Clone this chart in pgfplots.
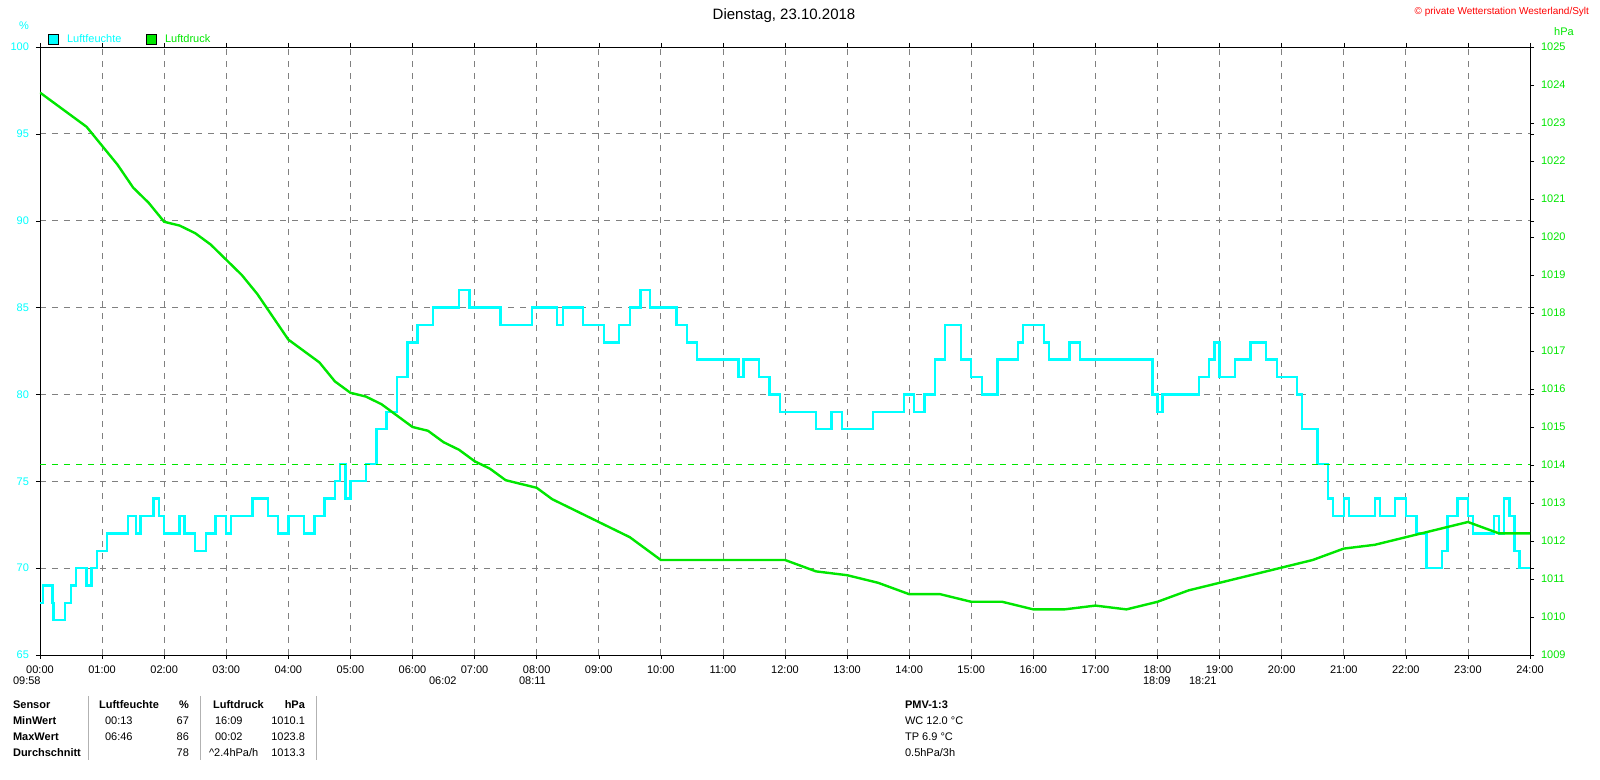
\documentclass[border=0pt]{standalone}
\usepackage{pgfplots}
\pgfplotsset{compat=1.18}
\usepackage{fontspec}
\setmainfont{Liberation Sans}
\definecolor{cy}{RGB}{0,255,255}
\definecolor{gr}{RGB}{0,230,0}
\begin{document}
\begin{tikzpicture}[x=1pt,y=1pt]
\newcommand{\fs}{\fontsize{5.5}{6}\selectfont}
\begin{axis}[scale only axis,width=745pt,height=304pt,
 xmin=0,xmax=24,ymin=65,ymax=100,
 xtick={0,...,24},
 xticklabels={00:00,01:00,02:00,03:00,04:00,05:00,06:00,07:00,08:00,09:00,10:00,11:00,12:00,13:00,14:00,15:00,16:00,17:00,18:00,19:00,20:00,21:00,22:00,23:00,24:00},
 ytick={65,70,...,100},
 grid=major,major grid style={gray,dashed,line width=0.4pt},
 tick style={black},tick align=outside,major tick length=2pt,
 axis line style={black},
 ticklabel style={font=\fs},
 yticklabel style={cy},
 /pgf/number format/assume math mode=true,
 clip=true]
\addplot[const plot,cy,line width=1.2pt] coordinates {
(0,68)(0.05,69)(0.2,68)(0.22,67)(0.4,68)(0.5,69)(0.58,70)(0.75,69)(0.83,70)(0.92,71)(1.08,72)(1.42,73)(1.55,72)(1.62,73)(1.75,73)(1.83,74)(1.92,73)(2.0,72)(2.25,73)(2.33,72)(2.5,71)(2.67,72)(2.83,73)(3.0,72)(3.08,73)(3.42,74)(3.67,73)(3.83,72)(4.0,73)(4.25,72)(4.42,73)(4.58,74)(4.75,75)(4.83,76)(4.92,74)(5.0,75)(5.25,76)(5.42,78)(5.58,79)(5.75,81)(5.92,83)(6.08,84)(6.33,85)(6.75,86)(6.92,85)(7.42,84)(7.92,85)(8.33,84)(8.42,85)(8.75,84)(9.08,83)(9.33,84)(9.5,85)(9.67,86)(9.83,85)(10.25,84)(10.42,83)(10.58,82)(11.25,81)(11.33,82)(11.58,81)(11.75,80)(11.92,79)(12.5,78)(12.75,79)(12.92,78)(13.42,79)(13.92,80)(14.08,79)(14.25,80)(14.42,82)(14.58,84)(14.83,82)(15.0,81)(15.17,80)(15.42,82)(15.75,83)(15.83,84)(16.17,83)(16.25,82)(16.58,83)(16.75,82)(17.92,80)(18.0,79)(18.08,80)(18.67,81)(18.83,82)(18.92,83)(19.0,81)(19.25,82)(19.5,83)(19.75,82)(19.92,81)(20.25,80)(20.33,78)(20.58,76)(20.75,74)(20.83,73)(21.0,74)(21.08,73)(21.5,74)(21.58,73)(21.83,74)(22.0,73)(22.17,72)(22.33,70)(22.58,71)(22.67,73)(22.83,74)(23.0,73)(23.08,72)(23.42,73)(23.5,72)(23.58,74)(23.67,73)(23.75,71)(23.83,70)(24,70)};
\end{axis}
\begin{axis}[scale only axis,width=745pt,height=304pt,
 xmin=0,xmax=24,ymin=1009,ymax=1025,
 axis x line=none,axis y line*=right,
 ytick={1009,...,1025},
 tick style={black},tick align=outside,major tick length=2pt,
 ticklabel style={font=\fs},yticklabel style={gr},
 /pgf/number format/assume math mode=true,
 /pgf/number format/1000 sep={}]
\addplot[gr,dashed,line width=0.5pt] coordinates {(0,1014)(24,1014)};
\addplot[gr,line width=1.2pt] coordinates {
(0,1023.8)(0.25,1023.5)(0.5,1023.2)(0.75,1022.9)(1,1022.4)(1.25,1021.9)(1.5,1021.3)(1.75,1020.9)(2,1020.4)(2.25,1020.3)(2.5,1020.1)(2.75,1019.8)(3,1019.4)(3.25,1019.0)(3.5,1018.5)(3.75,1017.9)(4,1017.3)(4.25,1017.0)(4.5,1016.7)(4.75,1016.2)(5,1015.9)(5.25,1015.8)(5.5,1015.6)(5.75,1015.3)(6,1015.0)(6.25,1014.9)(6.5,1014.6)(6.75,1014.4)(7,1014.1)(7.25,1013.9)(7.5,1013.6)(7.75,1013.5)(8,1013.4)(8.25,1013.1)(8.5,1012.9)(8.75,1012.7)(9,1012.5)(9.25,1012.3)(9.5,1012.1)(9.75,1011.8)(10,1011.5)(10.5,1011.5)(11,1011.5)(11.5,1011.5)(12,1011.5)(12.5,1011.2)(13,1011.1)(13.5,1010.9)(14,1010.6)(14.5,1010.6)(15,1010.4)(15.5,1010.4)(16,1010.2)(16.5,1010.2)(17,1010.3)(17.5,1010.2)(18,1010.4)(18.5,1010.7)(19,1010.9)(19.5,1011.1)(20,1011.3)(20.5,1011.5)(21,1011.8)(21.5,1011.9)(22,1012.1)(22.5,1012.3)(23,1012.5)(23.5,1012.2)(24,1012.2)};
\end{axis}
\begin{scope}[shift={(-20,-62.5)}]
\path (0,0) rectangle (800,390);
\node[font=\fontsize{7.5}{8}\selectfont] at (392,382) {Dienstag, 23.10.2018};
\node[font=\fontsize{5}{6}\selectfont,red,anchor=east] at (798,384) {© private Wetterstation Westerland/Sylt};
\node[font=\fs,cy] at (12,377) {\%};
\node[font=\fs,gr] at (782,374) {hPa};
\fill[cy,draw=black,line width=0.3pt] (24,368) rectangle (29,373);
\node[font=\fs,cy,anchor=west] at (30,370.5) {Luftfeuchte};
\fill[gr,draw=black,line width=0.3pt] (73,368) rectangle (78,373);
\node[font=\fs,gr,anchor=west] at (79,370.5) {Luftdruck};
\node[font=\fs,anchor=west] at (3,49.5) {09:58};
\node[font=\fs,anchor=west] at (211,49.5) {06:02};
\node[font=\fs,anchor=west] at (256,49.5) {08:11};
\node[font=\fs,anchor=west] at (568,49.5) {18:09};
\node[font=\fs,anchor=west] at (591,49.5) {18:21};
\draw[gray!60,line width=0.3pt] (44,42) -- (44,10) (100,42)--(100,10) (158,42)--(158,10);
\foreach \y/\a in {37.5/Sensor,29.5/MinWert,21.5/MaxWert,13.5/Durchschnitt}{\node[anchor=west,font=\fs\bfseries] at (3,\y) {\a};}
\node[anchor=west,font=\fs\bfseries] at (46,37.5) {Luftfeuchte};
\node[anchor=east,font=\fs\bfseries] at (98,37.5) {\%};
\node[anchor=west,font=\fs\bfseries] at (103,37.5) {Luftdruck};
\node[anchor=east,font=\fs\bfseries] at (156,37.5) {hPa};
\begin{scope}[font=\fs]
\node[anchor=west] at (49,29.5) {00:13}; \node[anchor=east] at (98,29.5) {67};
\node[anchor=west] at (49,21.5) {06:46}; \node[anchor=east] at (98,21.5) {86};
\node[anchor=east] at (98,13.5) {78};
\node[anchor=west] at (104,29.5) {16:09}; \node[anchor=east] at (156,29.5) {1010.1};
\node[anchor=west] at (104,21.5) {00:02}; \node[anchor=east] at (156,21.5) {1023.8};
\node[anchor=west] at (101,13.5) {\textasciicircum2.4hPa/h}; \node[anchor=east] at (156,13.5) {1013.3};
\node[anchor=west,font=\fs\bfseries] at (449,37.5) {PMV-1:3};
\node[anchor=west] at (449,29.5) {WC 12.0 °C};
\node[anchor=west] at (449,21.5) {TP 6.9 °C};
\node[anchor=west] at (449,13.5) {0.5hPa/3h};
\end{scope}
\end{scope}
\end{tikzpicture}
\end{document}
